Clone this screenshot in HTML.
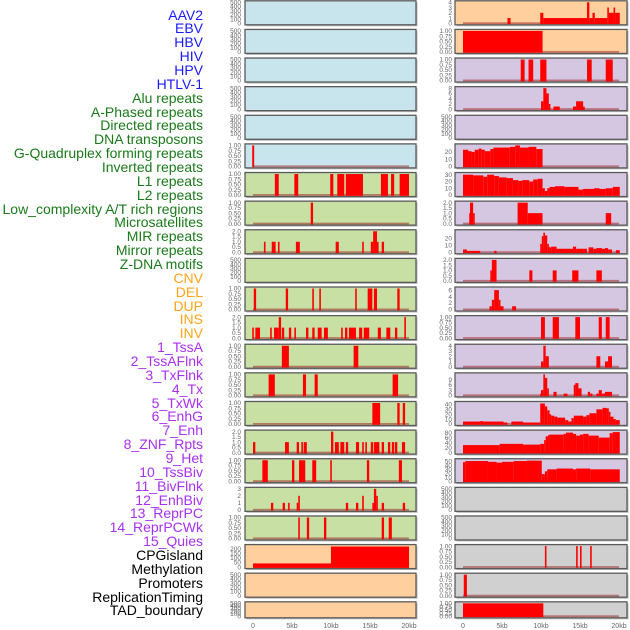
<!DOCTYPE html>
<html><head><meta charset="utf-8">
<style>
html,body{margin:0;padding:0;background:#fff;}
#wrap{position:relative;width:630px;height:630px;overflow:hidden;font-family:"Liberation Sans",sans-serif;}
.lbl{position:absolute;right:427px;font-size:14px;line-height:14px;white-space:nowrap;text-align:right;}
svg{position:absolute;left:0;top:0;}
</style></head>
<body>
<div id="wrap">
<svg id="chart" width="630" height="630"></svg>
</div>
<script>
// ---- labels ----
const trackLabels = ["AAV2","EBV","HBV","HIV","HPV","HTLV-1","Alu repeats","A-Phased repeats","Directed repeats","DNA transposons","G-Quadruplex forming repeats","Inverted repeats","L1 repeats","L2 repeats","Low_complexity A/T rich regions","Microsatellites","MIR repeats","Mirror repeats","Z-DNA motifs","CNV","DEL","DUP","INS","INV","1_TssA","2_TssAFlnk","3_TxFlnk","4_Tx","5_TxWk","6_EnhG","7_Enh","8_ZNF_Rpts","9_Het","10_TssBiv","11_BivFlnk","12_EnhBiv","13_ReprPC","14_ReprPCWk","15_Quies","CPGisland","Methylation","Promoters","ReplicationTiming","TAD_boundary"];
const labelGroups = ["v","v","v","v","v","v","r","r","r","r","r","r","r","r","r","r","r","r","r","s","s","s","s","s","c","c","c","c","c","c","c","c","c","c","c","c","c","c","c","o","o","o","o","o"];
const xTickLabels = ["0","5kb","10kb","15kb","20kb"];
const xTickValues = [0,5,10,15,20];

// ---- left column data: [startKb, endKb, value] ----
const htlvBars = [[-0.1,0.15,1]];
const aluBars = [[2.8,3.3,1],[5.3,5.8,1],[9.9,10.3,1],[10.8,11.7,1],[11.9,14.1,1],[16.4,17.3,1],[17.7,18.1,1],[18.8,20.0,1]];
const aphasedBars = [[7.4,7.7,1]];
const directedBars = [[1.4,1.6,1],[2.4,2.9,1],[3.2,3.4,1],[5.5,6.0,1],[10.6,11.0,1],[14.0,14.2,1],[15.1,15.4,1],[15.4,15.9,2],[15.9,16.1,1],[16.5,16.8,1]];
const gquadBars = [[0.1,0.4,1],[4.2,4.5,1],[7.6,7.8,1],[8.5,8.7,1],[13.1,13.3,1],[14.7,15.3,1],[15.5,15.9,1],[18.5,18.8,1]];
const invertedBars = [[-0.1,0.1,1],[0.3,0.9,1],[2.2,2.4,1],[2.7,3.3,1],[3.3,3.6,2],[3.7,4.0,1],[4.6,4.9,1],[5.3,5.5,1],[6.8,7.1,1],[7.6,7.9,1],[8.3,8.8,1],[9.1,9.6,1],[11.3,11.5,1],[11.8,12.1,1],[12.3,13.2,1],[13.6,14.0,1],[14.2,14.9,1],[16.0,16.4,1],[17.1,17.6,1],[18.2,18.5,1],[19.4,19.6,2]];
const l1Bars = [[3.7,4.6,1],[12.9,13.5,1]];
const l2Bars = [[2.0,2.8,1],[6.4,6.8,1],[7.9,8.3,1],[17.9,18.6,1]];
const lowCompBars = [[15.3,16.3,1],[18.5,18.8,1],[19.2,19.5,1]];
const microsatBars = [[0,0.3,1],[4.1,4.6,1],[5.6,5.9,1],[6.2,6.4,1],[6.5,6.9,1],[10.0,10.3,2],[10.5,11.0,1],[11.2,11.7,1],[11.9,12.2,1],[13.2,13.6,1],[14.0,14.2,1],[14.4,14.6,1],[15.1,15.4,1],[15.5,16.2,1],[16.5,16.8,1],[17.3,17.6,1],[17.8,18.1,1],[18.2,18.5,1],[19.1,19.5,1]];
const mirBars = [[1.2,1.9,1],[5.0,5.3,1],[5.9,6.7,1],[7.6,8.1,1],[9.9,10.1,1],[14.6,14.9,1],[18.7,19.1,1]];
const mirrorBars = [[2.3,2.6,1],[3.8,4.1,1],[4.5,4.7,1],[5.6,5.8,1],[5.8,6.0,2],[11.9,12.2,1],[13.2,13.5,1],[14.0,14.2,2],[15.3,15.5,1],[15.5,15.8,3],[15.8,16.0,2],[16.5,16.8,1],[19.2,19.5,1]];
const zdnaBars = [[5.8,6.0,1],[6.9,7.2,1],[9.1,9.4,1],[16.5,16.8,1],[17.4,17.8,1]];
const cnvBars = [[0,10,40],[10,20,225]];

// ---- right column data ----
const insBars = [[5.7,6.1,1],[9.9,10.3,2],[10.3,15.9,1],[15.9,16.2,4],[16.2,16.6,1],[16.6,16.9,2],[16.9,18.5,1],[18.5,18.7,3],[18.7,19.3,2],[19.3,19.5,3],[19.5,20.1,2]];
const invBars = [[0,10.2,1]];
const tssaBars = [[7.4,7.9,1],[8.4,9.0,1],[9.9,10.7,1],[15.9,16.5,1],[18.3,19.2,1]];
const tssaflnkBars = [[10.0,10.3,3],[10.3,10.7,8],[10.7,11.0,6],[11.0,11.1,2],[11.6,12.4,1],[14.1,14.5,1],[14.5,15.4,3],[15.4,15.6,1]];
const txBars = [[0,0.7,23],[0.7,1.1,21],[1.1,1.5,20],[1.5,2.0,23],[2.0,2.4,24.5],[2.4,2.8,23],[2.8,3.5,21],[3.5,3.9,24],[3.9,6.0,26],[6.0,6.7,27],[6.7,7.3,29],[7.3,8.4,26],[8.4,9.4,27],[9.4,10.2,24]];
const txwkBars = [[0,1.3,30],[1.3,2.6,29],[2.6,3.1,27],[3.1,4.0,30],[4.0,4.6,28],[4.6,5.6,26],[5.6,6.4,25],[6.4,7.1,22],[7.1,7.6,21],[7.6,8.5,22],[8.5,9.0,20],[9.0,9.6,23],[9.6,10.2,24],[10.2,10.5,10],[10.5,10.8,6],[10.8,11.1,10],[11.1,11.8,12],[11.8,13.0,13],[13.0,14.8,12],[14.8,15.4,8],[15.4,16.8,9],[16.8,17.5,10],[17.5,18.3,9],[18.3,19.2,10],[19.2,20.1,12]];
const enhgBars = [[0.8,0.9,1],[0.9,1.3,2],[1.3,1.4,1],[7.0,8.3,2],[8.3,10.2,1],[18.3,19.0,1]];
const enhBars = [[0,0.5,4],[0.5,1.0,2],[1.0,2.2,2],[4.0,4.3,2],[9.9,10.1,12],[10.1,10.3,23],[10.3,10.5,28],[10.5,10.8,24],[10.8,10.9,12],[10.9,11.1,8],[11.1,11.3,7],[11.3,12.0,8],[12.0,14.1,5],[14.1,14.5,8],[14.5,15.4,5],[15.4,15.9,5],[16.1,16.7,7],[16.7,17.1,5],[17.1,17.8,6],[17.8,18.2,5],[18.2,18.6,6],[18.6,19.1,4],[19.6,20.1,3]];
const znfBars = [[3.5,3.7,1],[3.7,4.3,2],[8.5,8.9,1],[11.5,12.0,1],[14.0,14.8,1],[17.1,17.8,1]];
const hetBars = [[3.4,3.7,1],[3.7,4.0,3],[4.0,4.6,6],[4.6,4.7,3],[4.7,5.2,1],[6.3,6.8,1]];
const tssbivBars = [[10.0,10.5,1],[11.5,12.3,1],[14.4,15.0,1],[17.4,17.8,1],[18.3,18.8,1]];
const bivflnkBars = [[10.0,10.3,1],[10.3,10.6,4],[10.6,11.0,2],[17.1,17.6,2],[18.2,18.6,1],[18.6,19.1,2]];
const enhbivBars = [[9.9,10.0,1],[10.0,10.3,3],[10.3,10.5,12],[10.5,10.8,10],[10.8,11.0,4],[11.6,12.0,2],[12.9,13.4,1],[14.2,14.4,6],[14.4,14.8,7],[14.8,15.2,4],[16.0,16.3,2],[16.3,16.6,1],[17.1,17.4,1],[17.4,17.8,3],[17.8,18.2,1],[18.2,19.1,2]];
const reprpcBars = [[0,2.2,5],[2.2,2.5,6],[2.5,5.2,5],[5.2,5.7,3],[6.2,7.7,5],[7.7,9.9,3],[9.9,10.5,42],[10.5,10.8,36],[10.8,11.1,28],[11.1,11.3,20],[11.3,11.7,17],[11.7,12.1,15],[12.1,13.1,13],[13.1,13.5,8],[13.5,13.9,5],[13.9,14.2,12],[14.2,15.4,17],[15.4,15.8,15],[15.8,16.2,18],[16.2,17.1,22],[17.1,17.9,30],[17.9,18.4,33],[18.4,18.7,32],[18.7,18.9,25],[18.9,19.3,15],[19.3,19.6,10],[19.6,20.1,8]];
const reprpcwkBars = [[0,4.7,30],[4.7,7.7,35],[7.7,9.9,32],[9.9,10.4,35],[10.4,10.6,50],[10.6,10.9,65],[10.9,11.1,70],[11.1,12.9,72],[12.9,13.2,75],[13.2,14.1,80],[14.1,14.5,75],[14.5,15.0,68],[15.0,15.4,72],[15.4,16.1,75],[16.1,17.4,68],[17.4,18.8,60],[18.8,19.2,78],[19.2,20.1,82]];
const quiesBars = [[0,0.3,48],[0.3,3.2,51],[3.2,4.3,49],[4.3,5.0,47],[5.0,6.5,49],[6.5,8.2,51],[8.2,10.1,52],[10.1,10.5,18],[10.5,10.8,25],[10.8,12.0,30],[12.0,14.1,32],[14.1,14.5,30],[14.5,16.3,32],[16.3,20.1,30]];
const promoterBars = [[10.5,10.7,1],[14.5,14.7,1],[15.0,15.2,1],[16.3,16.5,1]];
const replBars = [[0.1,0.5,1]];
const tadBars = [[0,10.3,1]];

// ---- tick sets ----
const tEmpty = [0,100,200,300,400,500];
const tUnit = [0,0.25,0.5,0.75,1];
const tTwo = [0,0.5,1,1.5,2];

const colors = {blue:"#c8e4ec",green:"#c8e0a4",orange:"#ffd09e",purple:"#d5c7e2",gray:"#d0d0d0"};
const labelColors = {v:"#1a1aff",r:"#1a7a1a",s:"#ffa31a",c:"#a830f0",o:"#000"};

const leftCol = [
 ["aav2","blue",500,tEmpty,null],["ebv","blue",500,tEmpty,null],["hbv","blue",500,tEmpty,null],["hiv","blue",500,tEmpty,null],["hpv","blue",500,tEmpty,null],
 ["htlv","blue",1,tUnit,htlvBars],["alu","green",1,tUnit,aluBars],["aphased","green",1,tUnit,aphasedBars],["directed","green",2,tTwo,directedBars],
 ["dna-transposons","green",500,tEmpty,null],["gquad","green",1,tUnit,gquadBars],["inverted","green",2,tTwo,invertedBars],["l1","green",1,tUnit,l1Bars],
 ["l2","green",1,tUnit,l2Bars],["low-complexity","green",1,tUnit,lowCompBars],["microsat","green",2,tTwo,microsatBars],["mir","green",1,tUnit,mirBars],
 ["mirror","green",3,[0,1,2,3],mirrorBars],["zdna","green",1,tUnit,zdnaBars],["cnv","orange",230,[0,50,100,150,200],cnvBars],
 ["del","orange",500,tEmpty,null],["dup","orange",500,tEmpty,null]
];
const rightCol = [
 ["ins","orange",4,[0,1,2,3,4],insBars],["inv","orange",1,tUnit,invBars],["tssa","purple",1,tUnit,tssaBars],["tssaflnk","purple",8,[0,2,4,6,8],tssaflnkBars],
 ["txflnk","purple",500,tEmpty,null],["tx","purple",29,[0,10,20],txBars],["txwk","purple",31,[0,10,20,30],txwkBars],["enhg","purple",2,tTwo,enhgBars],
 ["enh","purple",30,[0,10,20],enhBars],["znf","purple",2,tTwo,znfBars],["het","purple",6.5,[0,2,4,6],hetBars],["tssbiv","purple",1,tUnit,tssbivBars],
 ["bivflnk","purple",4,[0,1,2,3,4],bivflnkBars],["enhbiv","purple",12,[0,3,6,9],enhbivBars],["reprpc","purple",43,[0,10,20,30,40],reprpcBars],
 ["reprpcwk","purple",84,[0,20,40,60,80],reprpcwkBars],["quies","purple",53,[0,10,20,30,40,50],quiesBars],["cpgisland","gray",500,tEmpty,null],
 ["methylation","gray",500,tEmpty,null],["promoters","gray",1,tUnit,promoterBars],["replication-timing","gray",1,tUnit,replBars],["tad-boundary","gray",1,tUnit,tadBars]
];

const NS = "http://www.w3.org/2000/svg";
const svg = document.getElementById("chart");
function mk(tag, attrs, parent){const e=document.createElementNS(NS,tag);for(const k in attrs)e.setAttribute(k,attrs[k]);(parent||svg).appendChild(e);return e;}
function fmt(v,ticks){const step=ticks[1]-ticks[0];if(step===0.5)return v.toFixed(1);if(step<1)return v.toFixed(2);return String(v);}

// labels
const wrap = document.getElementById("wrap");
trackLabels.forEach((t,i)=>{
  const d=document.createElement("div");
  d.className="lbl";
  d.textContent=t;
  d.style.top=(15+i*13.86-7.5)+"px";
  d.style.color=labelColors[labelGroups[i]];
  
  
  wrap.appendChild(d);
});

function drawColumn(col, px0, px1, x0kb, scale, tickX, side){
  const xKb = kb => x0kb + kb*scale;
  col.forEach((p,i)=>{
    const [name,bg,max,ticks,bars]=p;
    const top = i*28.62 + 0.8;
    const h = (i===21)?16:24;
    const g = mk("g",{});
    
    
    mk("rect",{x:px0+1.5,y:top+1.5,width:px1-px0,height:h,fill:"#bbb"},g);
    mk("rect",{x:px0,y:top,width:px1-px0,height:h,fill:colors[bg],stroke:"#5a5a5a","stroke-width":1.3},g);
    const bottom = top+h-1.5, usable = h-3;
    const yV = v => bottom - Math.min(v,max)/max*usable;
    ticks.forEach(t=>{
      const tx=mk("text",{x:tickX,y:yV(t)+2.2,"font-size":6.5,fill:"#666","text-anchor":"end","font-family":"Liberation Sans, sans-serif"},g);
      tx.textContent=fmt(t,ticks);
      
      
    });
    if(bars){
      const base=mk("rect",{x:xKb(0),y:bottom-1,width:xKb(20)-xKb(0),height:1.8,fill:"rgba(160,40,40,0.55)"},g);
      
      
      bars.forEach(b=>{
        const x1=Math.max(xKb(b[0]),px0+1), x2=Math.min(xKb(b[1]),px1-1);
        const w=Math.max(x2-x1,1.6);
        const r=mk("rect",{x:x1,y:yV(b[2]),width:w,height:bottom-yV(b[2])+0.8,fill:"#ff0000"},g);
        
        
      });
    }
  });
  xTickValues.forEach((v,j)=>{
    const t=mk("text",{x:xKb(v),y:628,"font-size":7,fill:"#666","text-anchor":"middle","font-family":"Liberation Sans, sans-serif"});
    t.textContent=xTickLabels[j];
    
    
  });
}
drawColumn(leftCol,245,416,253,7.8,241,"left");
drawColumn(rightCol,455,627,463,7.8,452,"right");
</script>
</body></html>
